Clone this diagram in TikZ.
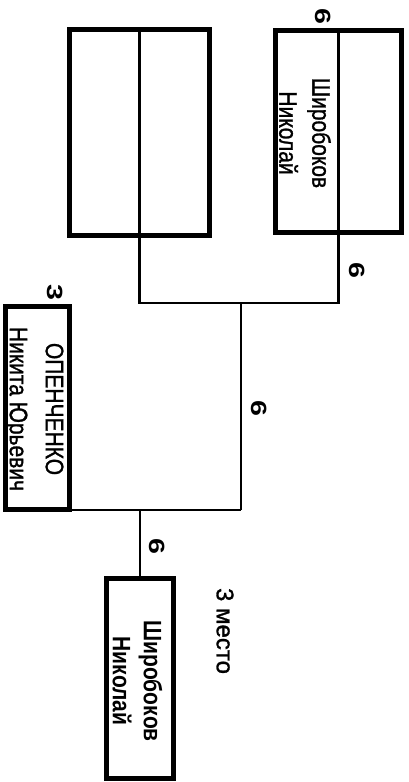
\documentclass[tikz,border=0pt]{standalone}
\usepackage{fontspec}
\setmainfont{Liberation Sans}
\newfontfamily\heavyfont[FakeBold=1.2]{Liberation Sans}
\begin{document}
\begin{tikzpicture}[x=1pt,y=-1pt,
  boxshape/.style={draw, line width=5pt, inner sep=0pt},
  wire/.style={line width=2.2pt},
  divider/.style={line width=2.2pt},
  nametext/.style={rotate=-90, yscale=1.2, align=center, inner sep=0pt},
  scoretext/.style={rotate=-90, xscale=1.3, inner sep=0pt, font=\fontsize{22}{26}\selectfont\bfseries},
  placetext/.style={rotate=-90, inner sep=0pt, font=\fontsize{24}{28}\heavyfont}]
\useasboundingbox (0,0) rectangle (409,782);
% boxes
\node[boxshape, minimum width=140pt, minimum height=206pt] (boxA) at (139.5,132.5) {};
\node[boxshape, minimum width=126pt, minimum height=202pt] (boxB) at (338.5,131.5) {};
\node[boxshape, minimum width=64pt, minimum height=203pt] (boxD) at (37.5,408) {};
\node[boxshape, minimum width=67pt, minimum height=200pt] (boxC) at (140,678.5) {};
% dividers
\draw[divider] (boxA.north) -- (boxA.south);
\draw[divider] (boxB.north) -- (boxB.south);
% junctions
\coordinate (j1) at (241,303);
\coordinate (j2) at (241,510);
\draw[wire] (boxA.south) |- (j1);
\draw[wire] (boxB.south) |- (j1);
\draw[wire] (j1) -- (j2);
\draw[wire] (boxD.south east |- j2) -- (j2);
\draw[wire] (boxC.north) -- (boxC.north |- j2);
% names
\node[nametext, font=\fontsize{21}{27.5}\heavyfont] (nB) at (305,133) {Широбоков\\Николай};
\node[nametext, font=\fontsize{21}{30}\heavyfont] (nD) at (34,409) {ОПЕНЧЕНКО\\Никита Юрьевич};
\node[nametext, font=\fontsize{21}{26}\selectfont\bfseries] (nC) at (137.5,681) {Широбоков\\Николай};
% scores
\node[scoretext] (s1) at (323,16) {6};
\node[scoretext] (s2) at (357,270) {6};
\node[scoretext] (s3) at (259,408) {6};
\node[scoretext] (s4) at (157,546) {6};
\node[scoretext] (s5) at (55,292) {3};
\node[placetext] (pl) at (225,631) {3 место};
\end{tikzpicture}
\end{document}
